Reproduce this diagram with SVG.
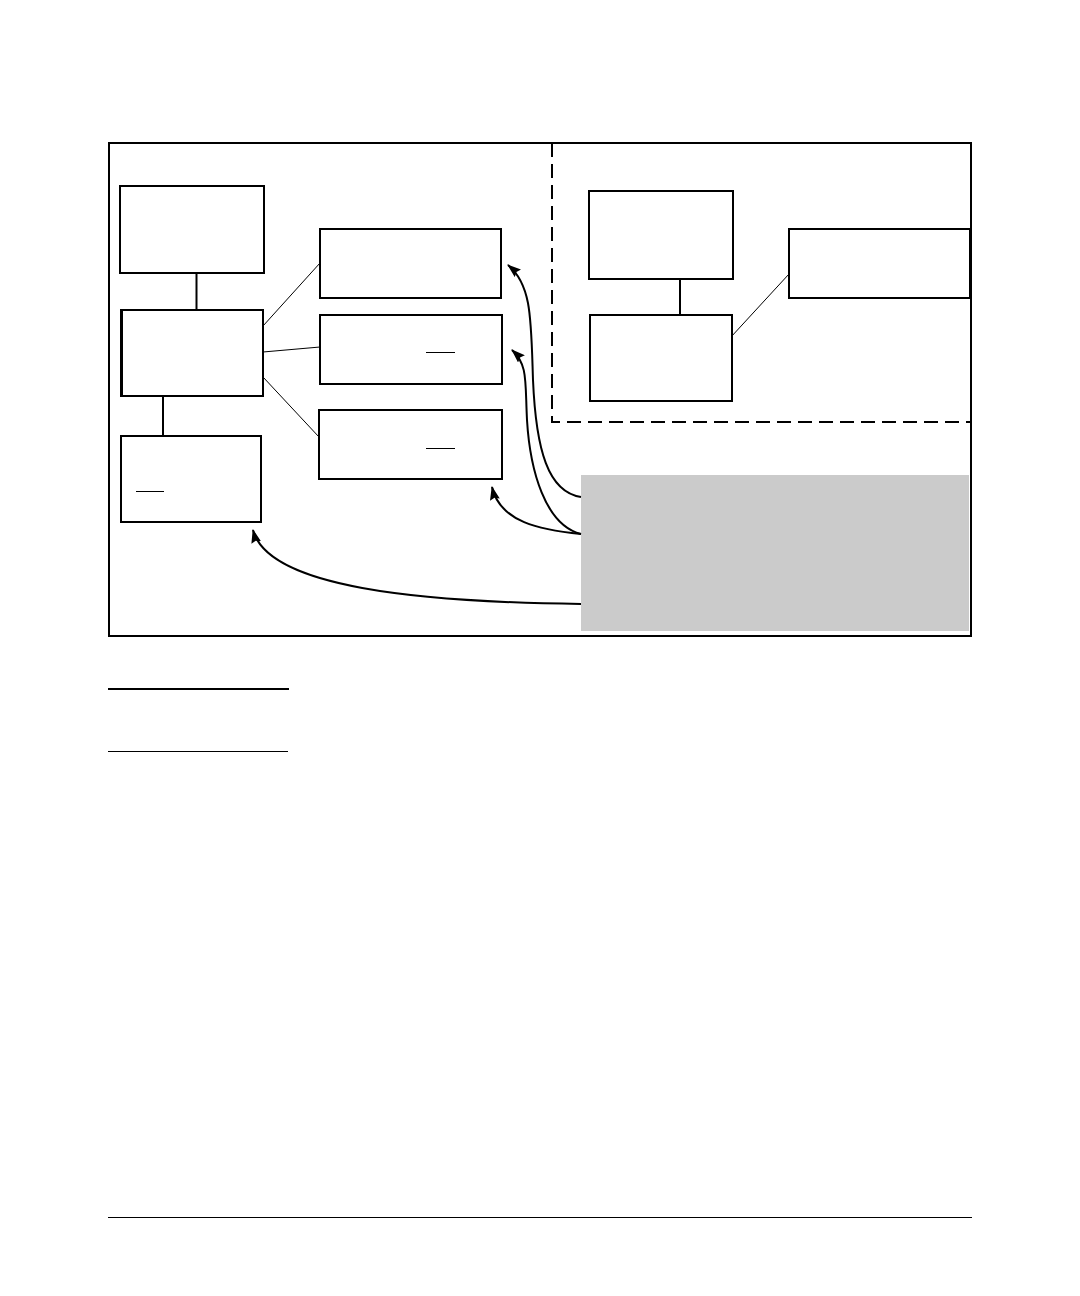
<svg xmlns="http://www.w3.org/2000/svg" width="1080" height="1296" viewBox="0 0 1080 1296">
<style>
.box{fill:#fff;stroke:#000;stroke-width:2}
.thin{stroke:#000;stroke-width:1;fill:none}
.stem{stroke:#000;stroke-width:2;fill:none}
.curve{stroke:#000;stroke-width:2;fill:none;marker-end:url(#ah)}
.dash{stroke:#000;stroke-width:2;fill:none;stroke-dasharray:14 7}
.ul{stroke:#000;stroke-width:1}
</style>
<defs>
<marker id="ah" viewBox="0 0 14 10" refX="13" refY="5" markerWidth="14" markerHeight="10" markerUnits="userSpaceOnUse" orient="auto">
<path d="M0,0 L14,5 L0,10 L2,5 Z" fill="#000"/>
</marker>
</defs>
<rect x="0" y="0" width="1080" height="1296" fill="#fff"/>
<rect id="frame" x="109" y="143" width="862" height="493" fill="none" stroke="#000" stroke-width="2"/>
<g id="region">
<path class="dash" d="M552,143 L552,422 L971,422"/>
</g>
<g id="gray-panel"><rect x="581" y="475" width="388" height="156" fill="#cbcbcb"/></g>
<g id="connectors">
<line class="stem" x1="196.5" y1="270" x2="196.5" y2="310" stroke-width="3"/>
<line class="stem" x1="163" y1="396" x2="163" y2="436"/>
<line class="thin" x1="263" y1="326" x2="320" y2="263"/>
<line class="thin" x1="263" y1="352" x2="320" y2="347"/>
<line class="thin" x1="263" y1="377" x2="319" y2="437"/>
<line class="stem" x1="680" y1="279" x2="680" y2="317"/>
<line class="thin" x1="731" y1="337" x2="789" y2="274"/>
<path class="curve" d="M581,497 C548,492 536,450 533,380 C531,320 532,285 508,265"/>
<path class="curve" d="M581,534 C545,525 530,470 527,420 C525,380 528,365 512,350"/>
<path class="curve" d="M581,534 C540,530 500,522 492,487"/>
<path class="curve" d="M581,604 C420,602 268,588 253,530"/>
</g>
<g id="nodeA"><rect class="box" x="120" y="186" width="144" height="87"/></g>
<g id="nodeB"><rect class="box" x="121" y="310" width="142" height="86"/><line x1="122" y1="310" x2="122" y2="396" stroke="#000" stroke-width="2"/></g>
<g id="nodeC"><rect class="box" x="121" y="436" width="140" height="86"/><line class="ul" x1="136" y1="491.5" x2="164" y2="491.5"/></g>
<g id="nodeD"><rect class="box" x="320" y="229" width="181" height="69"/></g>
<g id="nodeE"><rect class="box" x="320" y="315" width="182" height="69"/><line class="ul" x1="426" y1="352.5" x2="455" y2="352.5"/></g>
<g id="nodeF"><rect class="box" x="319" y="410" width="183" height="69"/><line class="ul" x1="426" y1="448.5" x2="455" y2="448.5"/></g>
<g id="nodeG"><rect class="box" x="589" y="191" width="144" height="88"/></g>
<g id="nodeH"><rect class="box" x="590" y="315" width="142" height="86"/></g>
<g id="nodeI"><rect class="box" x="789" y="229" width="181" height="69"/></g>
<g id="rules">
<line x1="108" y1="689" x2="289" y2="689" stroke="#000" stroke-width="2"/>
<line x1="108" y1="751.5" x2="288" y2="751.5" stroke="#000" stroke-width="1"/>
<line x1="108" y1="1217.5" x2="972" y2="1217.5" stroke="#000" stroke-width="1"/>
</g>
</svg>
